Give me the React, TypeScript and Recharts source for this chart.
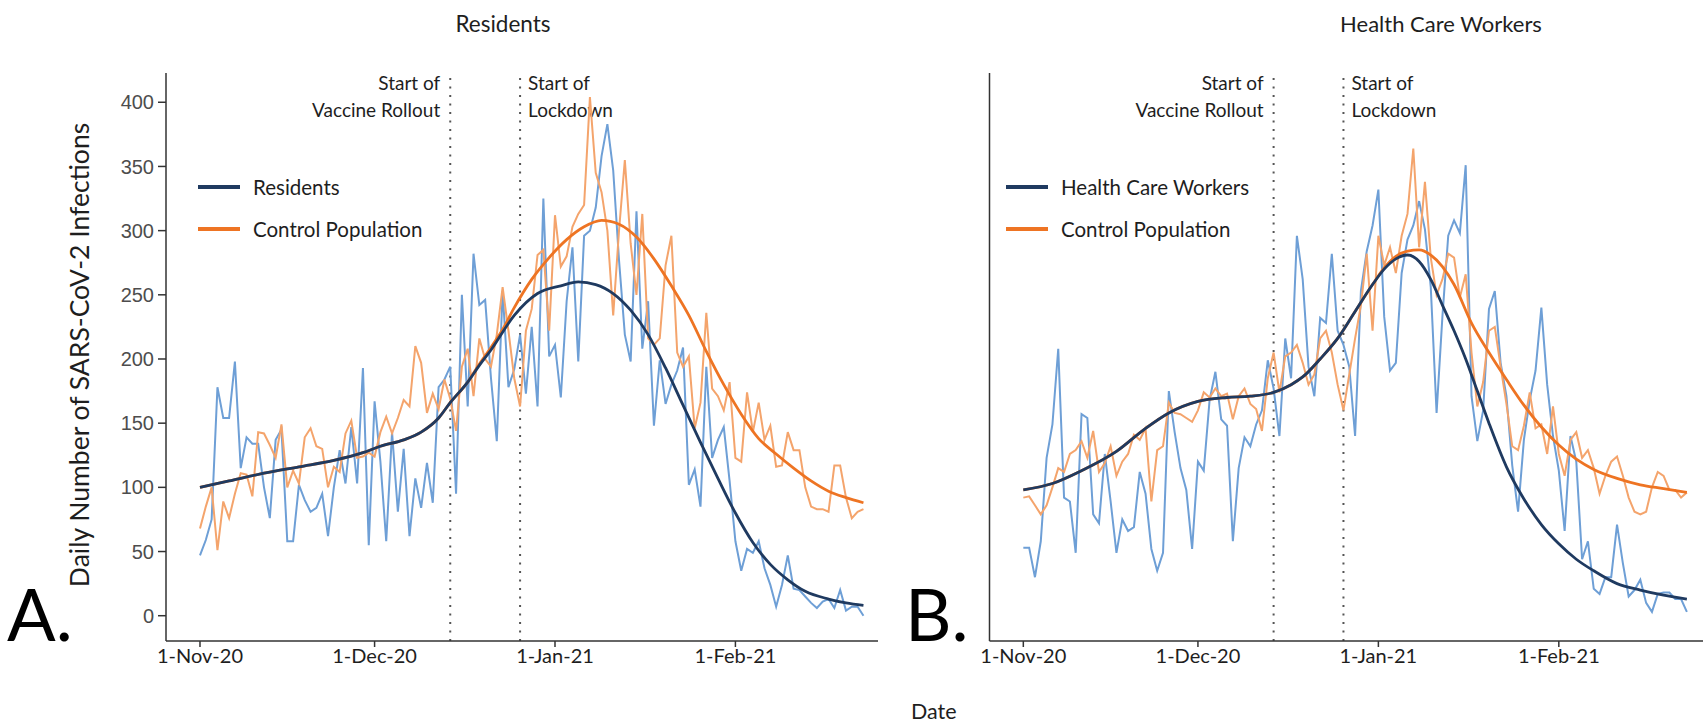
import React from 'react';
import { LineChart, Line, XAxis, YAxis, ReferenceLine } from 'recharts';

// Days since 1 Nov 2020 (0 = 1-Nov-20, 114 = 23-Feb-21)
const dayIndex: number[] = Array.from({ length: 115 }, (_, i) => i);

// Daily SARS-CoV-2 infections, long-term care residents
const residentsDaily = [
  47, 59, 75, 178, 154, 154, 198, 115, 139, 134,
  134, 100, 76, 137, 145, 58, 58, 102, 90, 81,
  84, 95, 62, 100, 129, 103, 147, 103, 193, 55,
  167, 120, 58, 143, 81, 130, 62, 107, 84, 119,
  88, 178, 184, 194, 95, 250, 163, 282, 242, 246,
  185, 136, 253, 178, 192, 219, 173, 225, 163, 325,
  202, 211, 170, 245, 287, 198, 296, 300, 318, 358,
  383, 347, 277, 219, 198, 315, 208, 245, 148, 199,
  165, 180, 191, 209, 102, 114, 85, 194, 123, 137,
  147, 105, 58, 35, 52, 49, 58, 37, 24, 7,
  24, 47, 21, 20, 15, 10, 6, 11, 13, 6,
  20, 4, 7, 7, 0,
];

// Control population matched to residents
const residentsControlDaily = [
  68, 85, 100, 51, 89, 76, 95, 111, 110, 93,
  143, 142, 133, 123, 149, 100, 113, 103, 139, 146,
  132, 130, 100, 116, 112, 142, 152, 123, 124, 127,
  124, 143, 155, 142, 154, 168, 163, 210, 197, 158,
  173, 161, 184, 169, 144, 194, 208, 171, 216, 200,
  194, 219, 256, 222, 185, 163, 222, 239, 281, 285,
  222, 312, 272, 280, 303, 313, 320, 404, 345, 330,
  300, 234, 300, 355, 290, 250, 313, 216, 211, 216,
  273, 296, 205, 194, 202, 146, 166, 236, 177, 171,
  160, 182, 123, 120, 174, 143, 166, 137, 148, 116,
  117, 143, 129, 129, 100, 85, 83, 83, 81, 117,
  117, 92, 76, 81, 83,
];

// Daily infections, health care workers
const hcwDaily = [
  53, 53, 30, 58, 123, 149, 208, 92, 89, 49,
  157, 154, 79, 72, 126, 89, 49, 75, 66, 69,
  112, 95, 52, 35, 49, 175, 143, 115, 98, 52,
  120, 113, 168, 190, 153, 148, 58, 115, 139, 132,
  149, 160, 199, 177, 140, 216, 185, 296, 262, 194,
  171, 232, 228, 282, 222, 211, 194, 140, 253, 284,
  304, 332, 233, 191, 197, 267, 293, 304, 323, 301,
  256, 158, 233, 296, 308, 298, 351, 171, 136, 160,
  239, 253, 197, 171, 117, 81, 137, 168, 191, 240,
  180, 140, 113, 66, 140, 120, 44, 58, 21, 17,
  30, 30, 71, 41, 15, 20, 28, 10, 3, 17,
  18, 18, 13, 13, 3,
];

// Control population matched to health care workers
const hcwControlDaily = [
  92, 93, 86, 79, 86, 100, 115, 112, 126, 129,
  136, 123, 144, 112, 119, 132, 109, 120, 126, 141,
  137, 146, 89, 129, 132, 166, 158, 157, 154, 151,
  160, 174, 170, 177, 171, 173, 153, 171, 177, 165,
  161, 144, 185, 205, 174, 202, 205, 211, 197, 180,
  188, 216, 222, 205, 180, 160, 188, 216, 242, 282,
  222, 296, 273, 287, 267, 296, 313, 364, 287, 338,
  279, 250, 262, 282, 279, 248, 266, 205, 163, 182,
  222, 225, 194, 165, 132, 129, 148, 174, 146, 149,
  126, 163, 126, 109, 137, 143, 123, 129, 115, 95,
  109, 120, 124, 109, 92, 81, 79, 81, 100, 112,
  109, 98, 98, 92, 96,
];

// Fitted trends: [day, infections]
const residentsTrend: [number, number][] = [
  [0, 100], [5, 105], [11, 111], [17, 116], [23, 121], [28, 127], [31, 132], [35, 137],
  [38, 143], [41, 154], [43, 166], [46, 182], [48, 195], [50, 207], [54, 234], [58, 251],
  [62, 257], [65, 260], [68, 258], [71, 251], [74, 238], [77, 219], [80, 193], [83, 164],
  [86, 135], [89, 107], [92, 80], [95, 57], [98, 40], [101, 28], [104, 19], [108, 13],
  [111, 10], [114, 8],
];

const residentsControlTrend: [number, number][] = [
  [0, 100], [5, 105], [11, 111], [17, 116], [23, 121], [28, 127], [31, 132], [35, 137],
  [38, 143], [41, 154], [43, 166], [46, 182], [48, 196], [50, 209], [52, 223], [54, 240],
  [57, 262], [60, 279], [63, 293], [66, 303], [69, 308], [72, 305], [75, 295], [78, 278],
  [81, 257], [84, 234], [87, 206], [90, 180], [93, 157], [96, 138], [99, 126], [102, 115],
  [105, 105], [108, 97], [111, 92], [114, 88],
];

const hcwTrend: [number, number][] = [
  [0, 98], [5, 103], [10, 113], [16, 128], [21, 146], [25, 158], [30, 167], [35, 170],
  [39, 171], [43, 174], [46, 180], [48, 186], [51, 200], [54, 216], [57, 237], [60, 258],
  [62, 270], [64, 278], [66, 281], [68, 276], [70, 262], [72, 242], [74, 222], [76, 200],
  [78, 175], [80, 150], [83, 116], [86, 91], [89, 71], [92, 56], [95, 44], [98, 35],
  [102, 25], [106, 20], [110, 16], [114, 13],
];

const hcwControlTrend: [number, number][] = [
  [0, 98], [5, 103], [10, 113], [16, 128], [21, 146], [25, 158], [30, 167], [35, 170],
  [39, 171], [43, 174], [46, 180], [48, 186], [51, 200], [54, 216], [57, 237], [60, 258],
  [62, 271], [64, 280], [66, 284], [68, 285], [70, 281], [72, 272], [74, 258], [77, 228],
  [80, 205], [83, 184], [86, 164], [89, 147], [92, 133], [95, 122], [98, 114], [102, 107],
  [106, 102], [110, 99], [114, 96],
];

// Axis ticks
const dateTicks = [0, 30, 61, 92];
const dateTickLabels = ['1-Nov-20', '1-Dec-20', '1-Jan-21', '1-Feb-21'];
const countTicks = [0, 50, 100, 150, 200, 250, 300, 350, 400];

// Policy events
const eventDays = [43, 55];
const eventLabels = [
  ['Start of', 'Vaccine Rollout'],
  ['Start of', 'Lockdown'],
];

const panelTitles = ['Residents', 'Health Care Workers'];
const panelTags = ['A.', 'B.'];
const seriesNames = ['Residents', 'Health Care Workers'];
const controlName = 'Control Population';

const RAW_BLUE = '#6e9fd6';
const RAW_ORANGE = '#f4a46c';
const NAVY = '#1f3a60';
const ORANGE = '#ee7423';
const TEXT = '#1e1e1e';
const FONT = "Lato, 'Open Sans', sans-serif";

const CHART_H = 700;
const Y_DOMAIN: [number, number] = [-19.7, 422.8];

type Row = { day: number; value: number };
const toRows = (vals: number[]): Row[] => vals.map((v, i) => ({ day: dayIndex[i], value: v }));
const trendRows = (pts: [number, number][]): Row[] => pts.map(([d, v]) => ({ day: d, value: v }));

function EventLabel(props: any) {
  const { viewBox, lines, side } = props;
  if (!viewBox) return null;
  const x = viewBox.x + (side === 'left' ? -10 : 8);
  const y = viewBox.y + 17;
  return (
    <text
      x={x}
      y={y}
      textAnchor={side === 'left' ? 'end' : 'start'}
      fontFamily={FONT}
      fontSize={19}
      fill={TEXT}
    >
      <tspan x={x} dy={0}>{lines[0]}</tspan>
      <tspan x={x} dy={27}>{lines[1]}</tspan>
    </text>
  );
}

// In-plot legend: a short line sample followed by the series name
function LegendGroup({ x, y, items }: { x: number; y: number; items: { label: string; color: string }[] }) {
  return (
    <g>
      {items.map((it, i) => {
        const cy = y + i * 42;
        return (
          <g key={it.label}>
            <line x1={x} x2={x + 42} y1={cy} y2={cy} stroke={it.color} strokeWidth={4} />
            <text
              x={x + 55}
              y={cy}
              dominantBaseline="central"
              fontFamily={FONT}
              fontSize={20.5}
              fill={TEXT}
            >
              {it.label}
            </text>
          </g>
        );
      })}
    </g>
  );
}

type PanelProps = {
  raw: number[];
  control: number[];
  trend: [number, number][];
  controlTrend: [number, number][];
  name: string;
  showYLabels: boolean;
  width: number;
  marginLeft: number;
  marginRight: number;
  yAxisWidth: number;
  xDomain: [number, number];
};

function Panel(p: PanelProps) {
  return (
    <LineChart
      width={p.width}
      height={CHART_H}
      margin={{ top: 73, right: p.marginRight, bottom: 19, left: p.marginLeft }}
    >
      <XAxis
        type="number"
        dataKey="day"
        domain={p.xDomain}
        allowDataOverflow
        ticks={dateTicks}
        interval={0}
        tickFormatter={(d: number) => dateTickLabels[dateTicks.indexOf(d)] ?? ''}
        tick={{ fill: TEXT, fontSize: 20, fontFamily: FONT }}
        tickSize={6}
        tickMargin={2}
        stroke="#333"
        strokeWidth={1.5}
        height={40}
      />
      <YAxis
        type="number"
        domain={Y_DOMAIN}
        allowDataOverflow
        ticks={countTicks}
        interval={0}
        width={p.yAxisWidth}
        tick={p.showYLabels ? { fill: '#4d4d4d', fontSize: 20, fontFamily: "'Liberation Sans', Arial, sans-serif" } : false}
        tickLine={p.showYLabels}
        tickSize={8}
        tickMargin={4}
        stroke="#333"
        strokeWidth={1.5}
      />
      {eventDays.map((d, i) => (
        <ReferenceLine
          key={d}
          x={d}
          stroke="#555"
          strokeWidth={2}
          strokeDasharray="2 6.5"
          label={(lp: any) => (
            <EventLabel viewBox={lp.viewBox} lines={eventLabels[i]} side={i === 0 ? 'left' : 'right'} />
          )}
        />
      ))}
      <Line
        data={toRows(p.raw)}
        dataKey="value"
        type="linear"
        stroke={RAW_BLUE}
        strokeWidth={2}
        dot={false}
        activeDot={false}
        isAnimationActive={false}
        name={`${p.name} (daily)`}
      />
      <Line
        data={toRows(p.control)}
        dataKey="value"
        type="linear"
        stroke={RAW_ORANGE}
        strokeWidth={2}
        dot={false}
        activeDot={false}
        isAnimationActive={false}
        name={`${controlName} (daily)`}
      />
      <Line
        data={trendRows(p.controlTrend)}
        dataKey="value"
        type="monotone"
        stroke={ORANGE}
        strokeWidth={2.8}
        dot={false}
        activeDot={false}
        isAnimationActive={false}
        name={controlName}
      />
      <Line
        data={trendRows(p.trend)}
        dataKey="value"
        type="monotone"
        stroke={NAVY}
        strokeWidth={2.8}
        dot={false}
        activeDot={false}
        isAnimationActive={false}
        name={p.name}
      />
    </LineChart>
  );
}

export default function App() {
  return (
    <div
      style={{
        position: 'absolute',
        left: 0,
        top: 0,
        width: 1703,
        height: 725,
        background: '#fff',
        overflow: 'hidden',
      }}
    >
      <div style={{ position: 'absolute', left: 0, top: 0 }}>
        <Panel
          raw={residentsDaily}
          control={residentsControlDaily}
          trend={residentsTrend}
          controlTrend={residentsControlTrend}
          name={seriesNames[0]}
          showYLabels
          width={880}
          marginLeft={96}
          marginRight={2}
          yAxisWidth={70}
          xDomain={[-5.84, 116.5]}
        />
      </div>
      <div style={{ position: 'absolute', left: 880, top: 0 }}>
        <Panel
          raw={hcwDaily}
          control={hcwControlDaily}
          trend={hcwTrend}
          controlTrend={hcwControlTrend}
          name={seriesNames[1]}
          showYLabels={false}
          width={823}
          marginLeft={99.5}
          marginRight={0}
          yAxisWidth={10}
          xDomain={[-5.81, 116.77]}
        />
      </div>
      <svg
        width={1703}
        height={725}
        style={{ position: 'absolute', left: 0, top: 0, pointerEvents: 'none' }}
      >
        <text x={503} y={32} textAnchor="middle" fontFamily={FONT} fontSize={22.5} fill={TEXT}>
          {panelTitles[0]}
        </text>
        <text x={1441} y={32} textAnchor="middle" fontFamily={FONT} fontSize={22} fill={TEXT}>
          {panelTitles[1]}
        </text>
        <LegendGroup
          x={198}
          y={187}
          items={[
            { label: seriesNames[0], color: NAVY },
            { label: controlName, color: ORANGE },
          ]}
        />
        <LegendGroup
          x={1006}
          y={187}
          items={[
            { label: seriesNames[1], color: NAVY },
            { label: controlName, color: ORANGE },
          ]}
        />
        <text
          x={79}
          y={355}
          transform="rotate(-90 79 355)"
          textAnchor="middle"
          dominantBaseline="central"
          fontFamily={FONT}
          fontSize={26.5}
          fill={TEXT}
        >
          Daily Number of SARS-CoV-2 Infections
        </text>
        <text x={911} y={719} fontFamily={FONT} fontSize={21.5} fill={TEXT}>
          Date
        </text>
        <text x={7} y={641} fontFamily={FONT} fontSize={72} fill="#000">
          {panelTags[0]}
        </text>
        <text x={905} y={641} fontFamily={FONT} fontSize={72} fill="#000">
          {panelTags[1]}
        </text>
      </svg>
    </div>
  );
}
